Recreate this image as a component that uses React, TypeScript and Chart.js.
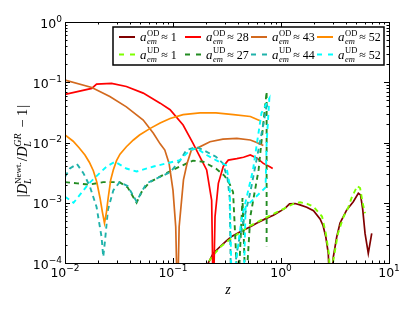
import React, { useEffect, useRef } from 'react';
import { Chart, registerables } from 'chart.js';

Chart.register(...registerables);

// ---- data (z, |D_L^Newt / D_L^GR - 1|) ----
const od1Z = [0.19, 0.212, 0.236, 0.272, 0.31, 0.349, 0.42, 0.52, 0.6, 0.73, 0.85, 0.98, 1.1, 1.2, 1.35, 1.5, 1.73, 2.0, 2.3, 2.45, 2.6, 2.74, 2.86, 3.05, 3.28, 3.52, 4.06, 4.67, 5.2, 5.45, 5.7, 6.0, 6.43, 6.92];
const od1V = [5e-5, 1e-4, 1.45e-4, 1.86e-4, 2.3e-4, 2.75e-4, 3.3e-4, 4e-4, 4.6e-4, 5.5e-4, 6.2e-4, 7.2e-4, 8.2e-4, 9.6e-4, 9.7e-4, 9.2e-4, 8.4e-4, 7.4e-4, 5.4e-4, 4.2e-4, 2.7e-4, 1.45e-4, 2e-5, 1.25e-4, 2.7e-4, 4.6e-4, 7.6e-4, 1.04e-3, 1.44e-3, 1.35e-3, 8e-4, 3.1e-4, 1.45e-4, 3.1e-4];

const ud1Z = [0.195, 0.21, 0.236, 0.28, 0.35, 0.5, 0.7, 1.0, 1.3, 1.5, 1.75, 2.0, 2.4, 2.6, 2.78, 2.92, 3.05, 3.37, 3.77, 4.2, 4.5, 5.08, 5.4, 5.7, 6.0];
const ud1V = [8e-5, 1e-4, 1.35e-4, 1.9e-4, 2.6e-4, 4e-4, 5.5e-4, 7.5e-4, 9.6e-4, 1.02e-3, 9.6e-4, 8.6e-4, 5.9e-4, 3.1e-4, 1.4e-4, 2e-5, 1.1e-4, 3.1e-4, 5.7e-4, 8.4e-4, 1.2e-3, 1.9e-3, 1.75e-3, 1.0e-3, 6.7e-4];

const od28Z = [0.01, 0.0177, 0.0196, 0.027, 0.037, 0.053, 0.076, 0.094, 0.124, 0.153, 0.184, 0.205, 0.228, 0.236, 0.245, 0.263, 0.292, 0.325, 0.39, 0.45, 0.52, 0.6, 0.686, 0.78, 0.838];
const od28V = [0.063, 0.079, 0.093, 0.096, 0.085, 0.066, 0.045, 0.035, 0.0195, 0.0098, 0.0051, 0.0035, 0.0011, 2e-5, 5.9e-4, 0.0021, 0.004, 0.0051, 0.0054, 0.0057, 0.0062, 0.0055, 0.0045, 0.004, 0.0037];

const ud27Z = [0.01, 0.013, 0.0167, 0.0226, 0.032, 0.038, 0.046, 0.052, 0.061, 0.087, 0.116, 0.153, 0.19, 0.25, 0.3, 0.337, 0.36, 0.4, 0.44, 0.47, 0.52, 0.62, 0.736, 0.736];
const ud27V = [2.2e-3, 2.1e-3, 2.0e-3, 2.2e-3, 2.2e-3, 1.8e-3, 1.0e-3, 1.6e-3, 2.2e-3, 3.1e-3, 4.0e-3, 5.0e-3, 4.8e-3, 3.7e-3, 2.8e-3, 2.0e-3, 1.5e-3, 3e-5, 1.2e-3, 3e-5, 5.9e-4, 3.5e-3, 0.07, 1.9e-4];

const od43Z = [0.01, 0.0177, 0.026, 0.037, 0.053, 0.0658, 0.076, 0.084, 0.092, 0.1, 0.106, 0.11, 0.114, 0.125, 0.135, 0.148, 0.166, 0.22, 0.29, 0.39, 0.52, 0.596, 0.686];
const od43V = [0.109, 0.082, 0.058, 0.039, 0.0236, 0.0142, 0.0095, 0.0075, 0.0045, 0.0016, 4e-4, 2e-5, 4e-4, 0.0024, 0.0045, 0.0075, 0.008, 0.0103, 0.0114, 0.0117, 0.011, 0.01, 0.0089];

const ud44Z = [0.01, 0.0111, 0.0129, 0.0148, 0.017, 0.0196, 0.0218, 0.0226, 0.0235, 0.025, 0.028, 0.032, 0.038, 0.046, 0.052, 0.057, 0.076, 0.094, 0.116, 0.133, 0.166, 0.205, 0.25, 0.29, 0.32, 0.335, 0.345, 0.4, 0.52, 0.65, 0.75];
const ud44V = [2.7e-3, 3.7e-3, 4.4e-3, 3.1e-3, 1.86e-3, 8.5e-4, 2.7e-4, 1.27e-4, 2.4e-4, 7.7e-4, 1.6e-3, 2.2e-3, 1.9e-3, 1.05e-3, 1.6e-3, 2.1e-3, 2.7e-3, 3.2e-3, 5e-3, 7.5e-3, 8.4e-3, 7e-3, 5.8e-3, 4.5e-3, 2.5e-3, 1.2e-3, 3e-5, 2e-4, 1.5e-3, 0.012, 0.048];

const od52Z = [0.01, 0.0119, 0.0135, 0.0153, 0.0168, 0.0183, 0.0197, 0.0211, 0.0222, 0.0232, 0.0242, 0.0251, 0.0265, 0.028, 0.030, 0.0323, 0.037, 0.043, 0.049, 0.061, 0.076, 0.094, 0.124, 0.178, 0.25, 0.363, 0.52, 0.64];
const od52V = [0.0133, 0.0105, 0.0082, 0.0062, 0.0047, 0.0034, 0.0022, 0.0012, 7e-4, 4.6e-4, 7e-4, 0.0012, 0.0024, 0.0035, 0.005, 0.0064, 0.0085, 0.011, 0.0133, 0.017, 0.021, 0.025, 0.029, 0.031, 0.031, 0.029, 0.027, 0.023];

const ud52Z = [0.01, 0.012, 0.0167, 0.0243, 0.029, 0.037, 0.046, 0.066, 0.087, 0.116, 0.144, 0.166, 0.205, 0.25, 0.31, 0.335, 0.35, 0.43, 0.55, 0.66, 0.78, 0.736, 0.72, 0.47, 0.45];
const ud52V = [1.26e-3, 1.0e-3, 2.1e-3, 4.0e-3, 4.8e-3, 3.7e-3, 3.3e-3, 4.0e-3, 4.5e-3, 5.1e-3, 7.5e-3, 8.0e-3, 6.2e-3, 5.1e-3, 4.2e-3, 2.0e-3, 3e-5, 5.2e-4, 3.5e-3, 0.031, 0.054, 0.0098, 1.8e-3, 8.5e-4, 3e-5];

// legend / series labels
const seriesTags = ['OD', 'OD', 'OD', 'OD', 'UD', 'UD', 'UD', 'UD'];
const seriesVals = ['1', '28', '43', '52', '1', '27', '44', '52'];
const seriesColors = ['#800000', '#ff0000', '#d2691e', '#ff8c00', '#7fff00', '#228b22', '#20b2aa', '#00ffff'];
const seriesZ = [od1Z, od28Z, od43Z, od52Z, ud1Z, ud27Z, ud44Z, ud52Z];
const seriesV = [od1V, od28V, od43V, od52V, ud1V, ud27V, ud44V, ud52V];
// matplotlib plotting order (later on top)
const drawOrder = [0, 4, 1, 5, 2, 6, 3, 7];

const xDecades = [-2, -1, 0, 1];
const yDecades = [-4, -3, -2, -1, 0];

const SERIF = '"Liberation Serif", "DejaVu Serif", serif';
const SANS = '"DejaVu Sans", sans-serif';

function drawPow(ctx: CanvasRenderingContext2D, exp: number, x: number, baseline: number, align: 'center' | 'right') {
  const supTxt = exp < 0 ? '\u2212' + Math.abs(exp) : String(exp);
  ctx.font = '12.5px ' + SANS;
  const w1 = ctx.measureText('10').width;
  ctx.font = '9px ' + SANS;
  const w2 = ctx.measureText(supTxt).width;
  const total = w1 + w2;
  const x0 = align === 'center' ? x - total / 2 : x - total;
  ctx.textAlign = 'left';
  ctx.textBaseline = 'alphabetic';
  ctx.font = '12.5px ' + SANS;
  ctx.fillText('10', x0, baseline);
  ctx.font = '9px ' + SANS;
  ctx.fillText(supTxt, x0 + w1, baseline - 6);
}

function drawLegendLabel(ctx: CanvasRenderingContext2D, x: number, y: number, tag: string, val: string) {
  ctx.textAlign = 'left';
  ctx.textBaseline = 'alphabetic';
  ctx.font = 'italic 13px ' + SERIF;
  ctx.fillText('a', x, y);
  let cx = x + ctx.measureText('a').width + 0.5;
  ctx.font = 'italic 8.5px ' + SERIF;
  const wem = ctx.measureText('em').width;
  ctx.fillText('em', cx, y + 3);
  ctx.font = '8.5px ' + SERIF;
  const wsup = ctx.measureText(tag).width;
  ctx.fillText(tag, cx, y - 5.5);
  cx += Math.max(wem, wsup) + 2;
  ctx.font = '12px ' + SERIF;
  ctx.fillText('\u2248', cx, y);
  cx += ctx.measureText('\u2248').width + 3;
  ctx.fillText(val, cx, y);
}

function drawYLabel(ctx: CanvasRenderingContext2D, cxPos: number, cyPos: number) {
  type Seg = { t: string; f: string; dy: number; stack?: boolean };
  const big = 14.5;
  const small = 10;
  const segs: Seg[] = [
    { t: '|', f: `${big}px ${SERIF}`, dy: 0 },
    { t: 'D', f: `italic ${big}px ${SERIF}`, dy: 0 },
    { t: 'L', f: `italic ${small}px ${SERIF}`, dy: 3.5, stack: true },
    { t: 'Newt.', f: `${small - 1}px ${SERIF}`, dy: -6.5 },
    { t: '/', f: `${big}px ${SERIF}`, dy: 0 },
    { t: 'D', f: `italic ${big}px ${SERIF}`, dy: 0 },
    { t: 'L', f: `italic ${small}px ${SERIF}`, dy: 3.5, stack: true },
    { t: 'GR', f: `italic ${small}px ${SERIF}`, dy: -6.5 },
    { t: ' \u2212 1', f: `${big}px ${SERIF}`, dy: 0 },
    { t: '|', f: `${big}px ${SERIF}`, dy: 0 },
  ];
  let total = 0;
  let pendingStack = 0;
  const widths: number[] = [];
  segs.forEach((s) => {
    ctx.font = s.f;
    widths.push(ctx.measureText(s.t).width + (s.t === ' \u2212 1' ? 2 : 0));
  });
  for (let i = 0; i < segs.length; i++) {
    if (segs[i].stack) {
      pendingStack = widths[i];
      continue;
    }
    if (pendingStack) {
      total += Math.max(pendingStack, widths[i]) + 1;
      pendingStack = 0;
    } else total += widths[i];
  }
  ctx.save();
  ctx.translate(cxPos, cyPos);
  ctx.rotate(-Math.PI / 2);
  ctx.textAlign = 'left';
  ctx.textBaseline = 'alphabetic';
  let x = -total / 2;
  let stackW = 0;
  for (let i = 0; i < segs.length; i++) {
    const s = segs[i];
    ctx.font = s.f;
    ctx.fillText(s.t, x + (s.t === ' \u2212 1' ? 1 : 0), s.dy);
    if (s.stack) {
      stackW = widths[i];
      continue;
    }
    if (stackW) {
      x += Math.max(stackW, widths[i]) + 1;
      stackW = 0;
    } else x += widths[i];
  }
  ctx.restore();
}

const decorPlugin = {
  id: 'decor',
  afterDraw(chart: any) {
    const { ctx, chartArea: a, scales } = chart;
    const xs = scales.x;
    const ys = scales.y;
    ctx.save();
    ctx.fillStyle = '#000';
    ctx.strokeStyle = '#000';
    ctx.lineWidth = 1;
    ctx.strokeRect(Math.round(a.left) + 0.5, Math.round(a.top) + 0.5, Math.round(a.right - a.left), Math.round(a.bottom - a.top));
    const major = 5;
    const minor = 2.5;
    ctx.beginPath();
    xDecades.forEach((d) => {
      const px = Math.round(xs.getPixelForValue(Math.pow(10, d))) + 0.5;
      ctx.moveTo(px, a.bottom); ctx.lineTo(px, a.bottom - major);
      ctx.moveTo(px, a.top); ctx.lineTo(px, a.top + major);
      if (d < 1) {
        for (let m = 2; m <= 9; m++) {
          const q = Math.round(xs.getPixelForValue(m * Math.pow(10, d))) + 0.5;
          ctx.moveTo(q, a.bottom); ctx.lineTo(q, a.bottom - minor);
          ctx.moveTo(q, a.top); ctx.lineTo(q, a.top + minor);
        }
      }
    });
    yDecades.forEach((d) => {
      const py = Math.round(ys.getPixelForValue(Math.pow(10, d))) + 0.5;
      ctx.moveTo(a.left, py); ctx.lineTo(a.left + major, py);
      ctx.moveTo(a.right, py); ctx.lineTo(a.right - major, py);
      if (d < 0) {
        for (let m = 2; m <= 9; m++) {
          const q = Math.round(ys.getPixelForValue(m * Math.pow(10, d))) + 0.5;
          ctx.moveTo(a.left, q); ctx.lineTo(a.left + minor, q);
          ctx.moveTo(a.right, q); ctx.lineTo(a.right - minor, q);
        }
      }
    });
    ctx.stroke();
    xDecades.forEach((d) => {
      const px = xs.getPixelForValue(Math.pow(10, d));
      drawPow(ctx, d, px, a.bottom + 13.5, 'center');
    });
    yDecades.forEach((d) => {
      const py = ys.getPixelForValue(Math.pow(10, d));
      drawPow(ctx, d, a.left - 3, py + 5.5, 'right');
    });
    ctx.font = 'italic 14px ' + SERIF;
    ctx.textAlign = 'center';
    ctx.textBaseline = 'alphabetic';
    ctx.fillText('z', (a.left + a.right) / 2 + 1, a.bottom + 31);
    drawYLabel(ctx, 27, 151);
    // legend
    const bx = 113, by = 27, bw = 271, bh = 38;
    ctx.fillStyle = '#fff';
    ctx.fillRect(bx, by, bw, bh);
    ctx.lineWidth = 1.5;
    ctx.strokeStyle = '#000';
    ctx.strokeRect(bx, by, bw, bh);
    for (let i = 0; i < 8; i++) {
      const col = i % 4;
      const row = Math.floor(i / 4);
      const lx = 119 + col * 66;
      const ly = row === 0 ? 37 : 54.5;
      ctx.strokeStyle = seriesColors[i];
      ctx.lineWidth = 2;
      ctx.setLineDash(seriesTags[i] === 'UD' ? [5, 6] : []);
      ctx.beginPath();
      ctx.moveTo(lx, ly);
      ctx.lineTo(lx + 16, ly);
      ctx.stroke();
      ctx.setLineDash([]);
      ctx.fillStyle = '#000';
      drawLegendLabel(ctx, lx + 21, ly + 4, seriesTags[i], seriesVals[i]);
    }
    ctx.restore();
  },
};

export default function App() {
  const ref = useRef<HTMLCanvasElement | null>(null);
  useEffect(() => {
    document.body.style.margin = '0';
    const canvas = ref.current;
    if (!canvas) return;
    const datasets = drawOrder
      .slice()
      .reverse()
      .map((i) => ({
        label: seriesTags[i] + seriesVals[i],
        data: seriesZ[i].map((z, k) => ({ x: z, y: seriesV[i][k] })),
        borderColor: seriesColors[i],
        backgroundColor: seriesColors[i],
        borderWidth: seriesTags[i] === 'UD' ? 1.9 : 1.7,
        borderDash: seriesTags[i] === 'UD' ? [5, 4] : [],
        showLine: true,
        pointRadius: 0,
        tension: 0,
        fill: false,
        clip: 0,
      }));
    const chart = new Chart(canvas, {
      type: 'scatter',
      data: { datasets },
      options: {
        animation: false,
        responsive: false,
        devicePixelRatio: 1,
        layout: { padding: { left: 65, right: 26, top: 22, bottom: 49 } },
        plugins: { legend: { display: false }, tooltip: { enabled: false } },
        scales: {
          x: { type: 'logarithmic', min: 0.01, max: 10, display: false },
          y: { type: 'logarithmic', min: 1e-4, max: 1, display: false },
        },
      },
      plugins: [decorPlugin],
    } as any);
    return () => chart.destroy();
  }, []);
  return (
    <div style={{ width: 415, height: 312, background: '#fff' }}>
      <canvas ref={ref} width={415} height={312} style={{ display: 'block' }} />
    </div>
  );
}
